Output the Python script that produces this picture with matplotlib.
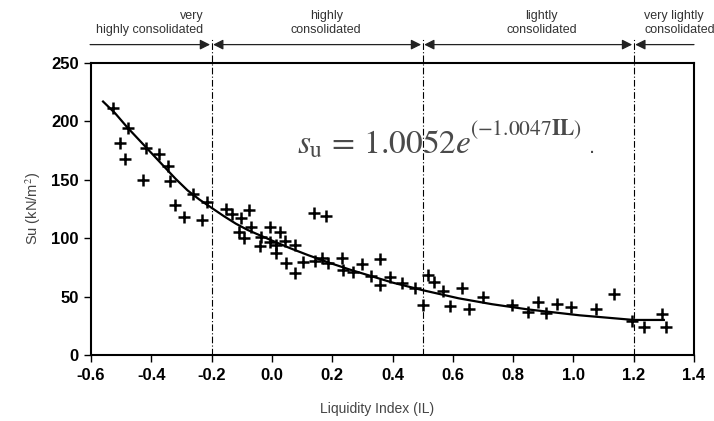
import matplotlib
matplotlib.use("Agg")
import matplotlib.pyplot as plt
import matplotlib.transforms as mtransforms

plt.rcParams['font.family'] = ['Liberation Sans', 'DejaVu Sans']
plt.rcParams['mathtext.fontset'] = 'stix'

# ---- data ----
il_points = [-0.526, -0.478, -0.504, -0.487, -0.419, -0.375, -0.346, -0.427, -0.338, -0.261,
             -0.214, -0.322, -0.291, -0.233, -0.151, -0.131, -0.076, -0.101, -0.068, -0.109,
             -0.093, -0.005, 0.026, -0.035, -0.040, -0.007, 0.013, 0.042, 0.075, 0.013,
             0.048, 0.075, 0.138, 0.178, 0.103, 0.142, 0.167, 0.186, 0.233, 0.235,
             0.269, 0.300, 0.357, 0.329, 0.357, 0.392, 0.432, 0.473, 0.517, 0.536,
             0.500, 0.567, 0.631, 0.591, 0.653, 0.701, 0.796, 0.851, 0.881, 0.909,
             0.944, 0.992, 1.074, 1.135, 1.196, 1.234, 1.293, 1.306]
su_points = [211.7, 194.0, 181.8, 168.0, 177.5, 171.8, 161.8, 149.8, 149.0, 137.6,
             130.7, 128.4, 118.4, 115.6, 125.0, 120.4, 124.0, 117.0, 110.0, 105.6,
             100.4, 110.0, 105.6, 101.3, 93.6, 97.0, 94.2, 97.6, 94.2, 87.0,
             79.0, 70.0, 121.3, 119.3, 80.0, 80.5, 83.3, 78.5, 83.3, 72.8,
             70.8, 78.0, 82.0, 67.6, 60.0, 66.5, 61.4, 57.0, 68.5, 62.8,
             42.8, 55.0, 57.0, 42.0, 39.0, 50.0, 42.8, 37.0, 45.6, 36.2,
             43.7, 41.4, 39.1, 52.2, 29.4, 23.7, 35.1, 23.7]

curve_il = [-0.56, -0.52, -0.48, -0.44, -0.40, -0.36, -0.32, -0.28, -0.24, -0.20,
            -0.16, -0.12, -0.08, -0.04, 0.00, 0.06, 0.12, 0.19, 0.26, 0.33,
            0.40, 0.50, 0.62, 0.73, 0.85, 1.02, 1.20, 1.30]
curve_su = [217, 207, 195, 184, 173, 162, 151, 141, 133, 126,
            119, 112.5, 107, 102.5, 98, 91.5, 85.5, 79, 73, 67.5,
            62, 55.5, 48.5, 43.5, 39, 34, 30, 30]

boundaries = [-0.2, 0.5, 1.2]
zone_labels = ["very\nhighly consolidated", "highly\nconsolidated",
               "lightly\nconsolidated", "very lightly\nconsolidated"]
x_ticks = [-0.6, -0.4, -0.2, 0.0, 0.2, 0.4, 0.6, 0.8, 1.0, 1.2, 1.4]
y_ticks = [0, 50, 100, 150, 200, 250]

# ---- figure ----
fig = plt.figure(figsize=(7.14, 4.21), dpi=100)
ax = fig.add_axes([91/714, 66/421, 603/714, 292/421])

ax.plot(curve_il, curve_su, color='black', lw=1.6, zorder=3)
ax.plot(il_points, su_points, ls='none', marker='+', ms=8, mew=1.8, color='black', zorder=4)

ax.set_xlim(-0.6, 1.4)
ax.set_ylim(0, 250)
ax.set_xticks(x_ticks)
ax.set_xticklabels([f"{t:.1f}" for t in x_ticks])
ax.set_yticks(y_ticks)
for lab in ax.get_xticklabels() + ax.get_yticklabels():
    lab.set_fontweight('bold')
    lab.set_fontsize(12)
ax.tick_params(direction='out', length=5, width=1, pad=4)
for s in ax.spines.values():
    s.set_linewidth(1.5)

ax.set_xlabel("Liquidity Index (IL)", fontsize=10, color='#444444')
ax.xaxis.set_label_coords(0.474, -0.16)
ax.set_ylabel("Su (kN/m$^2$)", fontsize=10.5, color='#444444', labelpad=6)

# boundaries (dash-dot) extending above the axes
trans = mtransforms.blended_transform_factory(ax.transData, ax.transAxes)
for b in boundaries:
    ax.plot([b, b], [0, 1.085], transform=trans, clip_on=False, color='black',
            lw=0.8, dashes=(6, 2, 1, 2), zorder=2)

# arrows along the top
y_arrow = 1.063
edges = [-0.603] + boundaries + [1.40]
for i in range(len(edges) - 1):
    x0, x1 = edges[i], edges[i + 1]
    if i == 0:
        style = '-|>'
    elif i == len(edges) - 2:
        style = '<|-'
    else:
        style = '<|-|>'
    ax.annotate('', xy=(x1 - (0.005 if i < len(edges) - 2 else 0), y_arrow),
                xytext=(x0 + (0.005 if i > 0 else 0), y_arrow),
                xycoords=trans, textcoords=trans, annotation_clip=False,
                arrowprops=dict(arrowstyle=style, color='#222222', lw=0.9,
                                shrinkA=0, shrinkB=0, mutation_scale=15))

# zone labels
lab_kw = dict(transform=trans, fontsize=9, color='#333333', clip_on=False,
              va='bottom', linespacing=1.25)
ax.text(-0.228, 1.092, zone_labels[0], ha='right', multialignment='right', **lab_kw)
ax.text(0.18, 1.092, zone_labels[1], ha='center', multialignment='center', **lab_kw)
ax.text(0.895, 1.092, zone_labels[2], ha='center', multialignment='center', **lab_kw)
ax.text(1.235, 1.092, zone_labels[3], ha='left', multialignment='left', **lab_kw)

# equation
fig.text(297/714, 1 - 153/421, r"$s_{\mathrm{u}}\,=\,1.0052e$", fontsize=24,
         color='#4a4a4a', va='baseline', ha='left')
fig.text(470/714, 1 - 135/421, r"$(-1.0047\mathbf{IL})$", fontsize=15.5,
         color='#4a4a4a', va='baseline', ha='left')
fig.text(589/714, 1 - 153/421, ".", fontsize=16, color='#4a4a4a', va='baseline', ha='left')

fig.savefig("out.png", dpi=100)
